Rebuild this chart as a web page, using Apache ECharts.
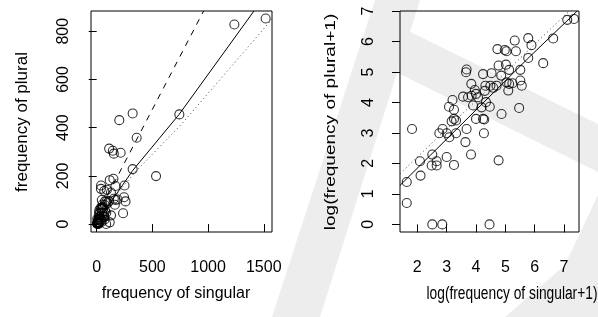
<!DOCTYPE html>
<html lang="en">
<head>
<meta charset="UTF-8">
<title>singular vs plural</title>
<script src="https://cdn.jsdelivr.net/npm/echarts@6/dist/echarts.min.js"></script>
<style>
    html, body { margin: 0; padding: 0; background: #fff; }
    #graph { width: 598px; height: 317px; }
</style>
</head>
<body>
<div id="graph"></div>
<script>
    // left panel: raw frequencies
    var singular = [4, 4, 5, 7, 7, 11, 11, 13, 13, 11, 16, 85, 15, 16, 19, 21, 27, 19, 25, 21,
        24, 25, 23, 25, 27, 38, 39, 39, 37, 45, 34, 41, 46, 46, 52, 54, 48, 54, 68, 71,
        71, 68, 74, 76, 65, 86, 92, 88, 109, 98, 128, 117, 129, 117, 112, 145, 154, 203, 215, 150,
        168, 154, 168, 188, 163, 250, 246, 259, 237, 323, 359, 323, 533, 742, 1236, 1517, 58, 73];
    var plural = [3, 1, 22, 7, 4, 9, 6, 6, 7, 0, 0, 0, 19, 22, 19, 16, 19, 8, 6, 47,
        58, 42, 28, 31, 29, 146, 160, 22, 14, 9, 65, 64, 67, 100, 81, 71, 48, 31, 31, 30,
        19, 137, 94, 54, 46, 47, 142, 94, 94, 87, 131, 182, 36, 7, 313, 304, 292, 431, 296, 188,
        158, 105, 100, 102, 80, 160, 111, 94, 45, 459, 358, 228, 199, 455, 828, 853, 64, 79];

    // right panel: log(frequency + 1)
    var logSingular = [1.64, 1.64, 1.82, 2.09, 2.11, 2.51, 2.49, 2.66, 2.66, 2.51, 2.85, 4.46, 2.75, 2.86, 3.00, 3.09, 3.32, 3.00, 3.25, 3.08,
        3.20, 3.25, 3.17, 3.25, 3.32, 3.66, 3.68, 3.68, 3.64, 3.83, 3.56, 3.73, 3.85, 3.84, 3.96, 4.00, 3.90, 4.00, 4.24, 4.28,
        4.27, 4.24, 4.32, 4.34, 4.19, 4.47, 4.53, 4.49, 4.70, 4.59, 4.86, 4.77, 4.87, 4.77, 4.73, 4.98, 5.04, 5.32, 5.36, 5.02,
        5.13, 5.04, 5.13, 5.24, 5.10, 5.51, 5.51, 5.56, 5.47, 5.78, 5.89, 5.78, 6.29, 6.63, 7.11, 7.34, 4.07, 4.30];
    var logPlural = [1.39, 0.70, 3.13, 2.07, 1.60, 2.29, 1.93, 1.93, 2.07, 0, 0, 0, 2.99, 3.13, 2.99, 2.86, 2.99, 2.21, 1.95, 3.86,
        4.08, 3.76, 3.38, 3.46, 3.41, 4.99, 5.08, 3.13, 2.70, 2.29, 4.19, 4.17, 4.22, 4.61, 4.41, 4.28, 3.90, 3.46, 3.46, 3.44,
        2.99, 4.93, 4.55, 4.01, 3.84, 3.86, 4.96, 4.55, 4.55, 4.48, 4.88, 5.21, 3.62, 2.10, 5.75, 5.72, 5.68, 6.03, 5.68, 5.24,
        5.07, 4.66, 4.61, 4.63, 4.39, 5.07, 4.72, 4.55, 3.82, 6.11, 5.88, 5.46, 5.29, 6.10, 6.71, 6.74, 4.17, 4.38];

    var rawTicksX = [0, 500, 1000, 1500];
    var rawTicksY = [0, 200, 400, 600, 800];
    var logTicksX = [2, 3, 4, 5, 6, 7];
    var logTicksY = [0, 1, 2, 3, 4, 5, 6, 7];

    // lines
    var rawSolid = [[20, 20], [323, 222], [742, 456], [1412, 884]];
    var rawDashed = [[100, 121], [960, 884]];
    var rawDotted = [[50, 50], [344, 215], [763, 415], [1574, 850]];
    var logSolid = [[1.41, 1.28], [5.83, 5.50], [7.45, 7.0]];
    var logDotted = [[1.41, 1.66], [7.2, 7.02]];

    var font = 'Liberation Sans, Arial, sans-serif';
    var wm = '#ededed';

    function pairs(xs, ys) {
        var out = [];
        for (var i = 0; i < xs.length; i++) out.push([xs[i], ys[i]]);
        return out;
    }

    function axis(grid, min, max, ticks, margin, rotate) {
        var label = {
            customValues: ticks, margin: margin, rotate: rotate, fontSize: 16, color: '#000', fontFamily: font,
            formatter: function (v) { return String(v); }
        };
        if (rotate) {
            // fixed-width box so every rotated label sits the same way
            label.formatter = function (v) { return '{t|' + v + '}'; };
            label.rich = { t: { width: 28, align: 'center', fontSize: 16, fontFamily: font, color: '#000' } };
        }
        return {
            type: 'value', gridIndex: grid, min: min, max: max,
            splitLine: { show: false },
            axisLine: { show: false },
            axisTick: { show: true, length: 8, customValues: ticks, lineStyle: { color: '#000', width: 1 } },
            axisLabel: label
        };
    }

    function line(xi, pts, type, color) {
        return {
            type: 'line', xAxisIndex: xi, yAxisIndex: xi, data: pts, showSymbol: false, silent: true,
            lineStyle: { color: color, width: 1, type: type }, z: 3
        };
    }

    function scatter(xi, pts) {
        return {
            type: 'scatter', xAxisIndex: xi, yAxisIndex: xi, data: pts, symbol: 'circle', symbolSize: 9,
            itemStyle: { color: 'transparent', borderColor: '#000', borderWidth: 1.1 }, z: 4
        };
    }

    var myChart = echarts.init(document.getElementById('graph'));
    var option = {
        animation: false,
        backgroundColor: '#fff',
        graphic: [
            { type: 'polygon', z: -10, shape: { points: [[375, 0], [420, 0], [320, 317], [272, 317]] }, style: { fill: wm } },
            { type: 'polygon', z: -10, shape: { points: [[390, 22], [598, 124], [598, 172], [398, 73]] }, style: { fill: wm } },
            { type: 'polygon', z: -10, shape: { points: [[598, 195], [598, 317], [505, 317], [565, 265]] }, style: { fill: wm } },
            { type: 'text', x: 176, y: 294, style: { text: 'frequency of singular', fontSize: 16, fill: '#000', align: 'center', verticalAlign: 'middle', fontFamily: font } },
            { type: 'text', x: 22, y: 122, rotation: Math.PI / 2, style: { text: 'frequency of plural', fontSize: 17, fill: '#000', align: 'center', verticalAlign: 'middle', fontFamily: font } },
            { type: 'text', x: 512, y: 294, scaleX: 0.86, scaleY: 1.15, style: { text: 'log(frequency of singular+1)', fontSize: 16, fill: '#000', align: 'center', verticalAlign: 'middle', fontFamily: font } },
            { type: 'text', x: 331, y: 122, rotation: Math.PI / 2, scaleX: 1.19, scaleY: 0.86, style: { text: 'log(frequency of plural+1)', fontSize: 16, fill: '#000', align: 'center', verticalAlign: 'middle', fontFamily: font } }
        ],
        grid: [
            { left: 91, top: 11, width: 181, height: 221, show: true, borderColor: '#000', borderWidth: 1, backgroundColor: 'transparent' },
            { left: 400, top: 11, width: 179, height: 221, show: true, borderColor: '#000', borderWidth: 1, backgroundColor: 'transparent' }
        ],
        xAxis: [
            axis(0, -51, 1574, rawTicksX, 28, 0),
            axis(1, 1.41, 7.51, logTicksX, 28, 0)
        ],
        yAxis: [
            axis(0, -33, 884, rawTicksY, 19, 90),
            axis(1, -0.25, 7.0, logTicksY, 23, 90)
        ],
        series: [
            scatter(0, pairs(singular, plural)),
            line(0, rawSolid, 'solid', '#000'),
            line(0, rawDashed, [6, 6], '#000'),
            line(0, rawDotted, [1, 3], '#444'),
            scatter(1, pairs(logSingular, logPlural)),
            line(1, logSolid, 'solid', '#000'),
            line(1, logDotted, [1, 3], '#444')
        ]
    };
    myChart.setOption(option);
</script>
</body>
</html>
